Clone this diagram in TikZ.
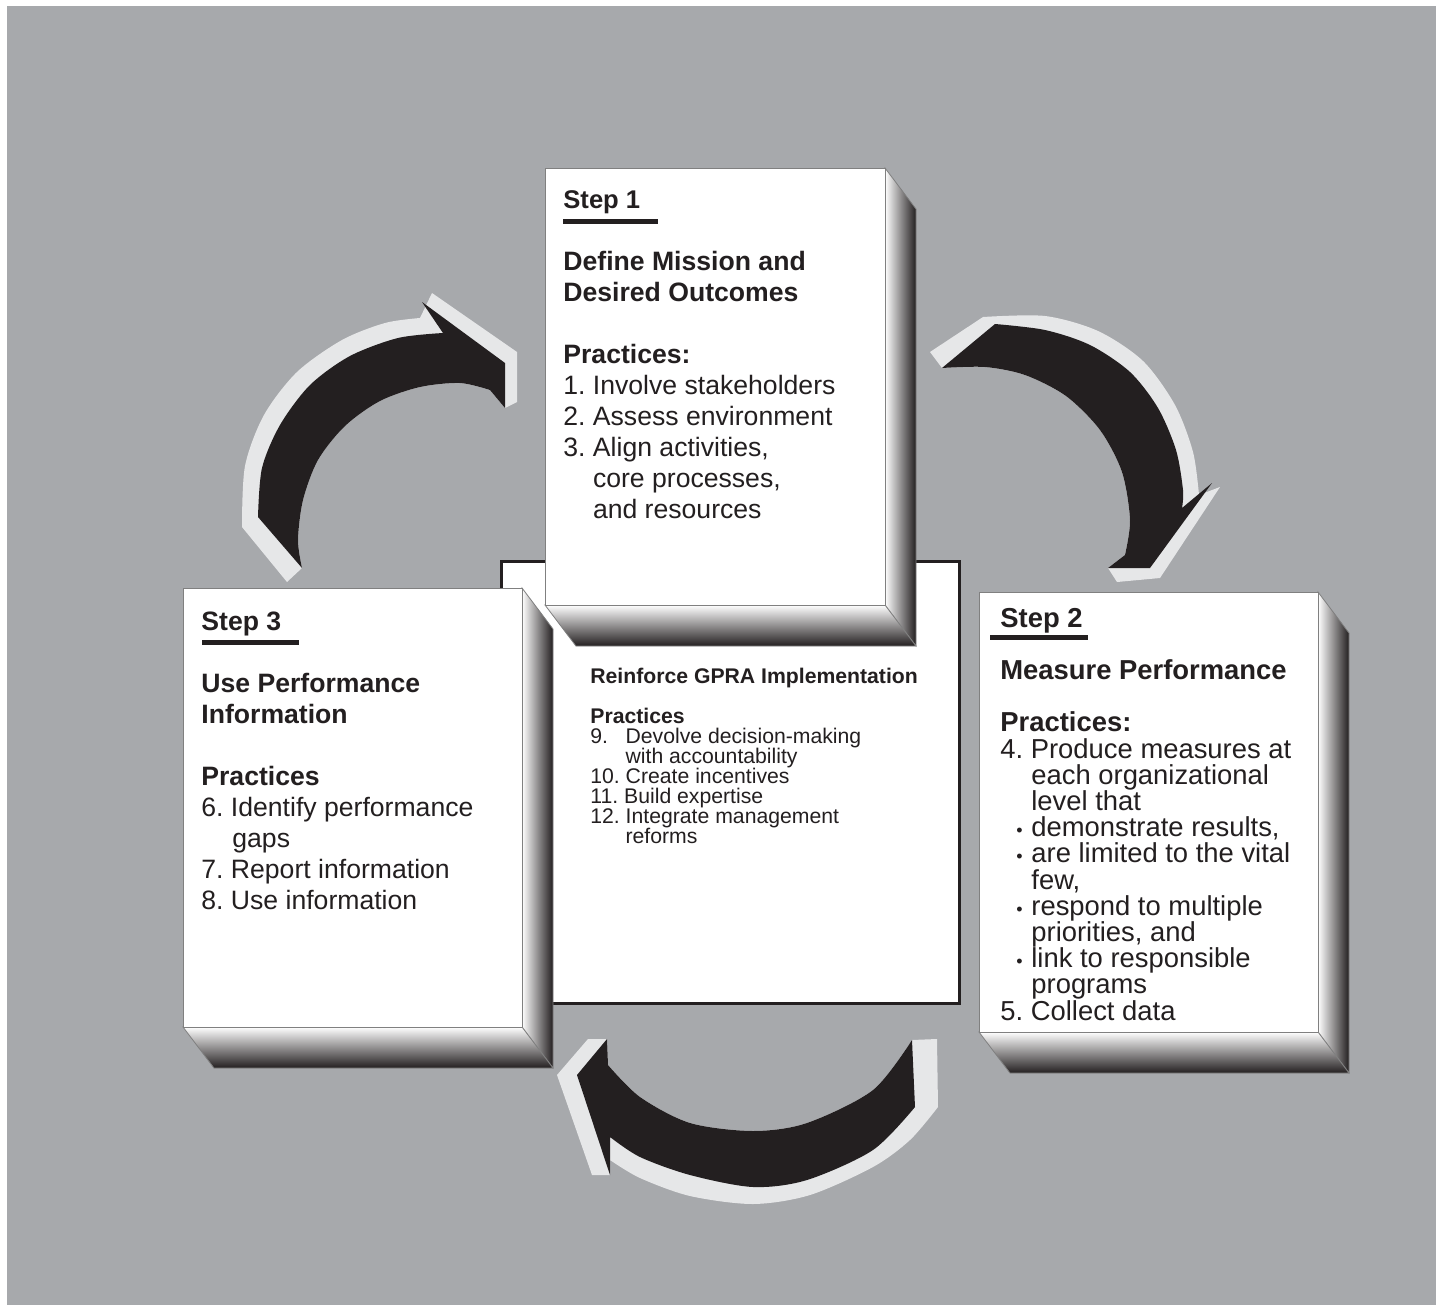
\documentclass[tikz,border=0pt]{standalone}
\usepackage{fontspec}
\setmainfont{Liberation Sans}
\frenchspacing

\definecolor{bggray}{HTML}{A7A9AC}
\definecolor{arrowlight}{HTML}{E6E7E8}
\definecolor{ink}{HTML}{231F20}

\newcommand{\listdot}{\hspace*{8pt}\makebox[7.5pt][l]{\fontsize{9}{9}\selectfont •}}

\tikzset{
  front/.style={fill=white, draw=gray, line width=0.4pt},
  rside/.style={left color=white, right color=ink, draw=gray, line width=0.4pt},
  bside/.style={top color=white, bottom color=ink, draw=gray, line width=0.4pt},
  boxtext/.style={anchor=base west, align=left, inner sep=0pt, text=ink,
    font=\fontsize{13.3}{15.5}\selectfont},
  bar/.style={fill=ink},
}

\begin{document}
\begin{tikzpicture}[x=0.5pt,y=-0.5pt]
\useasboundingbox (0,0) rectangle (1442,1307);
\fill[white] (0,0) rectangle (1442,1307);
\fill[bggray] (7,6) rectangle (1436,1305);

% arrow from step 3 to step 1
\fill[arrowlight] (302,568) -- (287,582) -- (242,527) -- plot[smooth] coordinates {(242,527) (245,466) (264,415) (297,372) (342,340) (385,323) (420,318)} -- (432,293) -- (517,352) -- (517,402) -- (505,408) -- (490,390) -- plot[smooth] coordinates {(490,390) (460,383) (420,387) (380,401) (345,426) (318,460) (303,500) (298,540) (302,568)} -- cycle;
\fill[ink] (258,517) -- plot[smooth] coordinates {(258,517) (262,468) (280,425) (310,385) (350,356) (398,338) (443,333)} -- (422,302) -- (505,363) -- (505,408) -- (490,390) -- plot[smooth] coordinates {(490,390) (460,383) (420,387) (380,401) (345,426) (318,460) (303,500) (298,540) (302,568)} -- cycle;

% arrow from step 1 to step 2
\fill[arrowlight] (942,368) -- (930,352) -- (983,317) -- plot[smooth] coordinates {(983,317) (1045,316) (1098,331) (1143,361) (1175,405) (1193,452) (1199,495)} -- (1220,487) -- (1160,578) -- (1117,582) -- (1108,568) -- (1125,555) -- plot[smooth] coordinates {(1125,555) (1130,520) (1122,472) (1100,430) (1066,396) (1025,375) (985,367) (942,368)} -- cycle;
\fill[ink] (942,368) -- (995,324) -- plot[smooth] coordinates {(995,324) (1045,330) (1090,345) (1130,372) (1158,408) (1176,450) (1183,490) (1182,508)} -- (1212,483) -- (1150,568) -- (1108,568) -- (1125,555) -- plot[smooth] coordinates {(1125,555) (1130,520) (1122,472) (1100,430) (1066,396) (1025,375) (985,367) (942,368)} -- cycle;

% arrow from step 2 to step 3
\fill[arrowlight] (912,1040) -- (937,1039) -- (938,1107) -- plot[smooth] coordinates {(938,1107) (910,1140) (873,1167) (810,1195) (753,1204) (690,1196) (640,1178) (610,1160)} -- (610,1175) -- (592,1175) -- (557,1075) -- (588,1039) -- (607,1039) -- (608,1065) -- plot[smooth] coordinates {(608,1065) (640,1097) (690,1123) (753,1131) (807,1123) (873,1090) (912,1040)} -- cycle;
\fill[ink] (912,1040) -- (915,1107) -- plot[smooth] coordinates {(915,1107) (873,1150) (807,1180) (753,1187) (690,1175) (640,1157) (610,1137)} -- (610,1175) -- (577,1075) -- (607,1039) -- (608,1065) -- plot[smooth] coordinates {(608,1065) (640,1097) (690,1123) (753,1131) (807,1123) (873,1090) (912,1040)} -- cycle;

% centre box
\draw[fill=white, draw=ink, line width=1.5pt] (501,561) rectangle (959,1003);

% step boxes
\foreach \xa/\ya/\xb/\yb in {183/588/522/1027, 545/168/885/605, 979/592/1318/1032} {
  \draw[rside] (\xb,\ya) -- (\xb+31,\ya+41) -- (\xb+31,\yb+41) -- (\xb,\yb) -- cycle;
  \draw[bside] (\xa,\yb) -- (\xb,\yb) -- (\xb+31,\yb+41) -- (\xa+31,\yb+41) -- cycle;
  \draw[front] (\xa,\ya) rectangle (\xb,\yb);
}

\node[boxtext] (stepone) at (563,518) {\textbf{\fontsize{12.8}{15.5}\selectfont Step 1}\\[15.5pt]
  \textbf{Define Mission and}\\ \textbf{Desired Outcomes}\\[15.5pt]
  \textbf{Practices:}\\ 1. Involve stakeholders\\ 2. Assess environment\\
  3. Align activities,\\ \hspace*{14.8pt}core processes,\\ \hspace*{14.8pt}and resources};
\fill[bar] (563,218.5) rectangle (658,223.5);

\node[boxtext] (stepthree) at (201,909) {\textbf{Step 3}\\[15.5pt]
  \textbf{Use Performance}\\ \textbf{Information}\\[15.5pt]
  \textbf{Practices}\\ 6. Identify performance\\ \hspace*{15.5pt}gaps\\
  7. Report information\\ 8. Use information};
\fill[bar] (202,639.5) rectangle (299,644.5);

\node[boxtext, font=\fontsize{13.7}{13.1}\selectfont] (steptwo) at (1000,1020) {\textbf{Step 2}\\[13.1pt]
  \textbf{Measure Performance}\\[13.1pt]
  \textbf{Practices:}\\ 4. Produce measures at\\ \hspace*{15.5pt}each organizational\\
  \hspace*{15.5pt}level that\\ \listdot demonstrate results,\\ \listdot are limited to the vital\\
  \hspace*{15.5pt}few,\\ \listdot respond to multiple\\ \hspace*{15.5pt}priorities, and\\
  \listdot link to responsible\\ \hspace*{15.5pt}programs\\ 5. Collect data};
\fill[bar] (990,635) rectangle (1088,640);

\node[boxtext, font=\fontsize{10.6}{10}\selectfont] (reinforce) at (590,843) {\textbf{Reinforce GPRA Implementation}\\[10pt]
  \textbf{Practices}\\ \makebox[17.6pt][l]{9.}Devolve decision-making\\
  \hspace*{17.6pt}with accountability\\ 10. Create incentives\\ 11. Build expertise\\
  12. Integrate management\\ \hspace*{17.6pt}reforms};
\end{tikzpicture}
\end{document}
